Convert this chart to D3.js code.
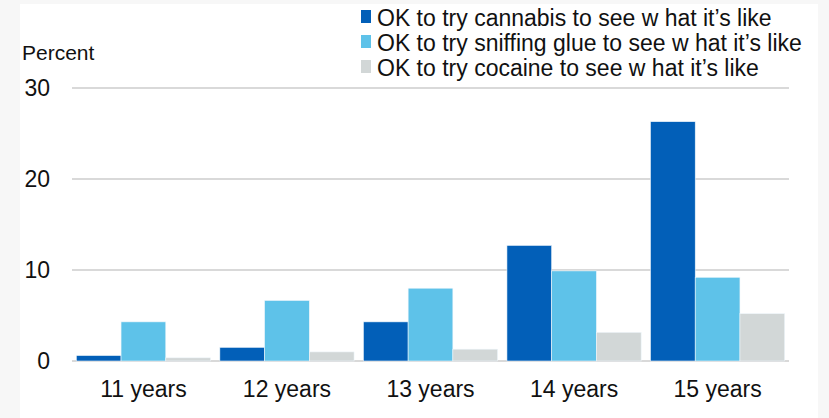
<!DOCTYPE html>
<html>
<head>
<meta charset="utf-8">
<script src="https://cdn.jsdelivr.net/npm/d3@7"></script>
<style>
  body { margin: 0; background: #f7f7f7; }
  svg { display: block; }
  text { font-family: "Liberation Sans", Arial, sans-serif; fill: #111; }
</style>
</head>
<body>
<div id="chart-area"></div>
<script>
const ages = ["11 years", "12 years", "13 years", "14 years", "15 years"];
const cannabis = [0.6, 1.5, 4.3, 12.7, 26.3];
const glue = [4.3, 6.65, 8.0, 9.9, 9.2];
const cocaine = [0.35, 1.0, 1.3, 3.15, 5.2];
const seriesNames = [
  "OK to try cannabis to see w hat it’s like",
  "OK to try sniffing glue to see w hat it’s like",
  "OK to try cocaine to see w hat it’s like"
];
const yTicks = [0, 10, 20, 30];

const colors = ["#025fb8", "#5ec2e9", "#d2d7d7"];
const series = [cannabis, glue, cocaine];

const canvas_dims = { width: 829, height: 418 };
const margins = { top: 88, right: 40, bottom: 57, left: 72 };
const content_dims = {
  width: canvas_dims.width - margins.left - margins.right,
  height: canvas_dims.height - margins.top - margins.bottom
};

const svg = d3
  .select("#chart-area")
  .append("svg")
  .attr("width", canvas_dims.width)
  .attr("height", canvas_dims.height);

// white panel
svg
  .append("rect")
  .attr("x", 20)
  .attr("y", 4)
  .attr("width", 798)
  .attr("height", 414)
  .attr("fill", "#fff");

const group = svg
  .append("g")
  .attr("transform", `translate(${margins.left},${margins.top})`);

const scales = {
  x: d3
    .scaleBand()
    .domain(ages)
    .range([0, content_dims.width])
    .paddingInner(0.065)
    .paddingOuter(0.03),
  y: d3.scaleLinear().domain([0, 30]).range([content_dims.height, 0])
};
const inner = d3
  .scaleBand()
  .domain(d3.range(series.length))
  .range([0, scales.x.bandwidth()]);

// gridlines
group
  .selectAll(".grid")
  .data(yTicks)
  .enter()
  .append("line")
  .attr("x1", 0)
  .attr("x2", content_dims.width)
  .attr("y1", d => scales.y(d))
  .attr("y2", d => scales.y(d))
  .attr("stroke", "#d9d9d9")
  .attr("stroke-width", 2);

// y axis
const yAxis = d3.axisLeft(scales.y).tickValues(yTicks).tickSize(0).tickPadding(22);
const yg = group.append("g").attr("class", "left axis").call(yAxis);
yg.select(".domain").remove();
yg.selectAll("text")
  .attr("font-size", "23px")
  .attr("font-family", "Liberation Sans, Arial, sans-serif")
  .attr("fill", "#111");

group
  .append("text")
  .attr("x", 22 - margins.left)
  .attr("y", -28)
  .attr("font-size", "21px")
  .text("Percent");

// x axis
const xAxis = d3.axisBottom(scales.x).tickSize(0).tickPadding(20);
const xg = group
  .append("g")
  .attr("class", "bottom axis")
  .attr("transform", `translate(0,${content_dims.height})`)
  .call(xAxis);
xg.select(".domain").remove();
xg.selectAll("text")
  .attr("font-size", "23px")
  .attr("font-family", "Liberation Sans, Arial, sans-serif")
  .attr("fill", "#111");

// bars
series.forEach((vals, i) => {
  group
    .selectAll(`.bar-${i}`)
    .data(vals)
    .enter()
    .append("rect")
    .attr("class", `bar-${i}`)
    .attr("x", (d, j) => scales.x(ages[j]) + inner(i))
    .attr("y", d => scales.y(d))
    .attr("width", inner.bandwidth())
    .attr("height", d => content_dims.height - scales.y(d))
    .attr("fill", colors[i])
    .attr("stroke", "#eef6fb")
    .attr("stroke-width", 0.6);
});

// legend
const legend = svg
  .append("g")
  .attr("transform", "translate(361,8)");
seriesNames.forEach((name, i) => {
  const row = legend.append("g").attr("transform", `translate(0,${i * 25})`);
  row
    .append("rect")
    .attr("x", 0)
    .attr("y", 2)
    .attr("width", 10)
    .attr("height", 13)
    .attr("fill", colors[i]);
  row
    .append("text")
    .attr("x", 16)
    .attr("y", 18)
    .attr("font-size", "23px")
    .text(name);
});
</script>
</body>
</html>
